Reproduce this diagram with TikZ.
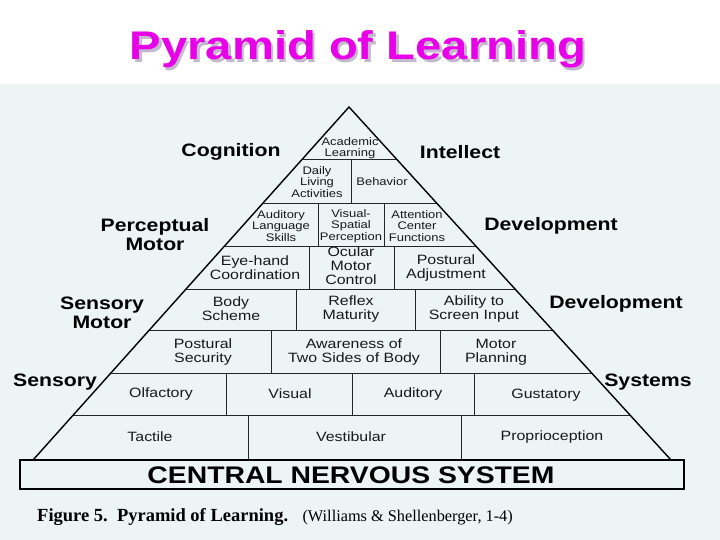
\documentclass[tikz,border=0pt]{standalone}
\usepackage{fontspec}
\setmainfont{Liberation Sans}[FakeStretch=1.18]
\newfontfamily\capfont{Liberation Serif}
\definecolor{PanelBlue}{RGB}{236,244,246}
\definecolor{TitleMagenta}{RGB}{232,0,232}
\definecolor{TitleShadow}{RGB}{196,184,204}
% title text with its drop shadow in one box
\newcommand{\shadowtitle}[1]{\makebox[0pt][l]{\hspace{2.5pt}\raisebox{-2.5pt}{\textcolor{TitleShadow}{#1}}}\textcolor{TitleMagenta}{#1}}

\begin{document}
\begin{tikzpicture}[x=1pt,y=-1pt,
  cellsmall/.style={font=\fontsize{11}{11.5}\selectfont, align=center, inner sep=0pt, text=black!90},
  cellbig/.style={font=\fontsize{13.5}{14}\selectfont, align=center, inner sep=0pt, text=black!90},
  levelname/.style={font=\fontsize{18}{19}\selectfont\bfseries, align=center, inner sep=0pt},
  rowline/.style={line width=0.9pt, black!85},
  outline/.style={line width=1.4pt, black}]

\useasboundingbox (0,0) rectangle (720,540);
\fill[PanelBlue] (0,84) rectangle (720,540);

% Title
\node[font=\fontsize{40}{40}\selectfont\bfseries, anchor=base, inner sep=0pt] (title) at (358,60) {\shadowtitle{Pyramid of Learning}};

% --- Pyramid frame ---
\coordinate (apex) at (349,107);
\coordinate (baseleft) at (33,460);
\coordinate (baseright) at (671,460);

\begin{scope}
\clip (apex) -- (baseleft) -- (baseright) -- cycle;
\foreach \y in {159,203,246,289,330,373,415}
  \draw[rowline] (0,\y) -- (720,\y);
\end{scope}

% dividers inside each row
\foreach \x/\ya/\yb in {351/159/203,
    318/203/246, 384/203/246,
    309/246/289, 394/246/289,
    296/289/330, 415/289/330,
    271/330/373, 440/330/373,
    226/373/415, 352/373/415, 474/373/415,
    248/415/460, 461/415/460}
  \draw[rowline] (\x,\ya) -- (\x,\yb);

\draw[outline, line join=miter] (baseleft) -- (apex) -- (baseright);

% --- Rows, top to bottom ---
\node[cellsmall] (academic) at (350,148) {Academic\\Learning};

\node[cellsmall] (daily) at (317,182) {Daily\\Living\\Activities};
\node[cellsmall] (behavior) at (382,182) {Behavior};

\node[cellsmall] (audlang) at (281,226) {Auditory\\Language\\Skills};
\node[cellsmall] (visspat) at (351,226) {Visual-\\Spatial\\Perception};
\node[cellsmall] (attention) at (417,226) {Attention\\Center\\Functions};

\node[cellbig] (eyehand) at (255,268) {Eye-hand\\Coordination};
\node[cellbig] (ocular) at (351,266) {Ocular\\Motor\\Control};
\node[cellbig] (postadj) at (446,268) {Postural\\Adjustment};

\node[cellbig] (body) at (231,309) {Body\\Scheme};
\node[cellbig] (reflex) at (351,309) {Reflex\\Maturity};
\node[cellbig] (screen) at (474,309) {Ability to\\Screen Input};

\node[cellbig] (postsec) at (203,352) {Postural\\Security};
\node[cellbig] (twosides) at (354,352) {Awareness of\\Two Sides of Body};
\node[cellbig] (motorplan) at (496,352) {Motor\\Planning};

\node[cellbig] (olfactory) at (161,394) {Olfactory};
\node[cellbig] (visual) at (290,394) {Visual};
\node[cellbig] (auditory) at (413,394) {Auditory};
\node[cellbig] (gustatory) at (546,395) {Gustatory};

\node[cellbig] (tactile) at (150,437) {Tactile};
\node[cellbig] (vestibular) at (351,437) {Vestibular};
\node[cellbig] (proprio) at (552,437) {Proprioception};

% --- Level names at the sides ---
\node[levelname] (cognition) at (231,152) {Cognition};
\node[levelname] (intellect) at (460,152) {Intellect};
\node[levelname] (percmotor) at (155,235) {Perceptual\\Motor};
\node[levelname] (devperc) at (551,226) {Development};
\node[levelname] (sensmotor) at (102,313) {Sensory\\Motor};
\node[levelname] (devsens) at (616,304) {Development};
\node[levelname] (sensory) at (55,382) {Sensory};
\node[levelname] (systems) at (648,382) {Systems};

% --- Base box ---
\draw[outline] (20,460) rectangle (684,489);
\node[font=\fontsize{24}{24}\selectfont\bfseries, inner sep=0pt] (cns) at (351,475) {CENTRAL NERVOUS SYSTEM};

% Caption
\node[font=\capfont\fontsize{18.5}{19}\selectfont\bfseries, anchor=base west, inner sep=0pt] (figcap) at (37,521) {Figure 5.\ \ Pyramid of Learning.};
\node[font=\capfont\fontsize{16.3}{17}\selectfont, anchor=base west, inner sep=0pt] (figsource) at ([xshift=14pt]figcap.base east) {(Williams \& Shellenberger, 1-4)};

\end{tikzpicture}
\end{document}
